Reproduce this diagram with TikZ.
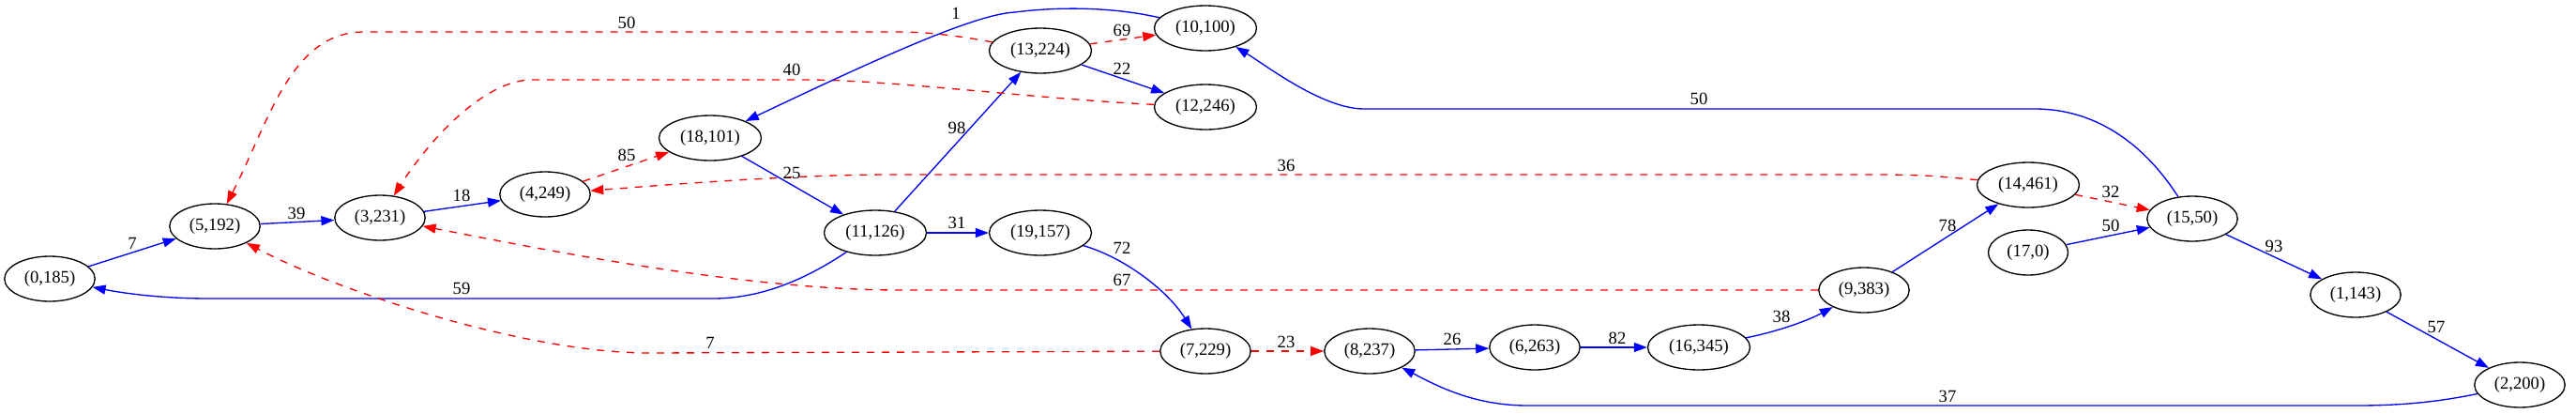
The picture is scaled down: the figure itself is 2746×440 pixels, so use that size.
\documentclass[tikz,border=0pt]{standalone}
\usepackage{fontspec}
\setmainfont{Liberation Serif}
\usetikzlibrary{arrows.meta,shapes.geometric}
\begin{document}
\begin{tikzpicture}[x=0.75pt,y=-0.75pt,
  vtx/.style={ellipse,draw=black,line width=1pt,minimum width=72.3pt,minimum height=36pt,inner sep=0pt,font=\fontsize{14}{16}\selectfont},
  wide/.style={minimum width=81.75pt},
  narrow/.style={minimum width=63.75pt},
  lbl/.style={font=\fontsize{14}{16}\selectfont,inner sep=0pt},
  be/.style={draw=blue,line width=1pt,-{Triangle[length=10.5pt,width=7.5pt]}},
  re/.style={draw=red,line width=1pt,dash pattern=on 6pt off 6pt,-{Triangle[length=10.5pt,width=7.5pt]}},
]
\useasboundingbox (0,0) rectangle (2746,440);
% nodes
\node[vtx] (n0185) at (53,297) {(0,185)};
\node[vtx] (n5192) at (229,241) {(5,192)};
\node[vtx] (n3231) at (405,232) {(3,231)};
\node[vtx] (n4249) at (581,207) {(4,249)};
\node[vtx,wide] (n18101) at (757,147) {(18,101)};
\node[vtx,wide] (n11126) at (933,248) {(11,126)};
\node[vtx,wide] (n13224) at (1109,54) {(13,224)};
\node[vtx,wide] (n19157) at (1109,248) {(19,157)};
\node[vtx,wide] (n10100) at (1285,30) {(10,100)};
\node[vtx,wide] (n12246) at (1285,114) {(12,246)};
\node[vtx] (n7229) at (1285,374) {(7,229)};
\node[vtx] (n8237) at (1460,374) {(8,237)};
\node[vtx] (n6263) at (1636,370) {(6,263)};
\node[vtx,wide] (n16345) at (1811,370) {(16,345)};
\node[vtx] (n9383) at (1987,309) {(9,383)};
\node[vtx,wide] (n14461) at (2162,197) {(14,461)};
\node[vtx,narrow] (n170) at (2162,269) {(17,0)};
\node[vtx] (n1550) at (2337,233) {(15,50)};
\node[vtx] (n1143) at (2511,314) {(1,143)};
\node[vtx] (n2200) at (2686,410) {(2,200)};
% straight edges
\draw[be] (n0185) -- (n5192);
\draw[be] (n5192) -- (n3231);
\draw[be] (n3231) -- (n4249);
\draw[re] (n4249) -- (n18101);
\draw[be] (n18101) -- (n11126);
\draw[be] (n11126) -- (n13224);
\draw[be] (n11126) -- (n19157);
\draw[re] (n13224) -- (n10100);
\draw[be] (n13224) -- (n12246);
\draw[re] (n7229) -- (n8237);
\draw[be] (n8237) -- (n6263);
\draw[be] (n6263) -- (n16345);
\draw[be] (n9383) -- (n14461);
\draw[re] (n14461) -- (n1550);
\draw[be] (n170) -- (n1550);
\draw[be] (n1550) -- (n1143);
\draw[be] (n1143) -- (n2200);
% curved edges
\draw[be] (n16345) .. controls (1900,352) and (1930,340) .. (n9383);
\draw[be] (n19157) .. controls (1200,275) and (1245,310) .. (n7229);
\draw[re] (n13224) .. controls (1020,38) and (990,34) .. (957,34) -- (388,34) .. controls (310,34) and (287,129) .. (n5192.62);
\draw[re] (n12246) .. controls (1100,105) and (950,85) .. (859,85) -- (567,85) .. controls (520,85) and (463,141) .. (n3231.58);
\draw[be] (n11126) .. controls (870,290) and (820,318) .. (760,318) -- (223,318) .. controls (170,318) and (130,312) .. (n0185);
\draw[re] (n7229) -- (692,376) .. controls (560,376) and (360,310) .. (n5192);
\draw[re] (n9383) -- (960,309) .. controls (800,309) and (600,270) .. (n3231);
\draw[re] (n14461) .. controls (2070,188) and (2050,186) .. (2000,186) -- (950,186) .. controls (850,186) and (720,196) .. (n4249);
\draw[be] (n10100) .. controls (1180,6) and (1120,8) .. (1082,13) .. controls (1040,15) and (940,60) .. (n18101);
\draw[be] (n1550) .. controls (2290,160) and (2240,116) .. (2169,116) -- (1454,116) .. controls (1410,116) and (1350,70) .. (n10100);
\draw[be] (n2200) .. controls (2600,428) and (2560,432) .. (2513,432) -- (1628,432) .. controls (1570,432) and (1530,410) .. (n8237);
% labels
\node[lbl] (l1) at (141,259) {7};
\node[lbl] (l2) at (316,227) {39};
\node[lbl] (l3) at (492,208) {18};
\node[lbl] (l4) at (668,165) {85};
\node[lbl] (l5) at (668,24) {50};
\node[lbl] (l6) at (492,307) {59};
\node[lbl] (l7) at (1019,14) {1};
\node[lbl] (l8) at (844,74) {40};
\node[lbl] (l9) at (1020,136) {98};
\node[lbl] (l10) at (844,184) {25};
\node[lbl] (l11) at (1020,237) {31};
\node[lbl] (l12) at (1196,264) {72};
\node[lbl] (l13) at (1196,298) {67};
\node[lbl] (l14) at (757,365) {7};
\node[lbl] (l15) at (1196,32) {69};
\node[lbl] (l16) at (1196,73) {22};
\node[lbl] (l17) at (1371,176) {36};
\node[lbl] (l18) at (1371,364) {23};
\node[lbl] (l19) at (1548,361) {26};
\node[lbl] (l20) at (1724,360) {82};
\node[lbl] (l21) at (1899,337) {38};
\node[lbl] (l22) at (2076,240) {78};
\node[lbl] (l23) at (2250,204) {32};
\node[lbl] (l24) at (2250,240) {50};
\node[lbl] (l25) at (1811,105) {50};
\node[lbl] (l26) at (2424,262) {93};
\node[lbl] (l27) at (2597,348) {57};
\node[lbl] (l28) at (2076,422) {37};
\end{tikzpicture}
\end{document}
